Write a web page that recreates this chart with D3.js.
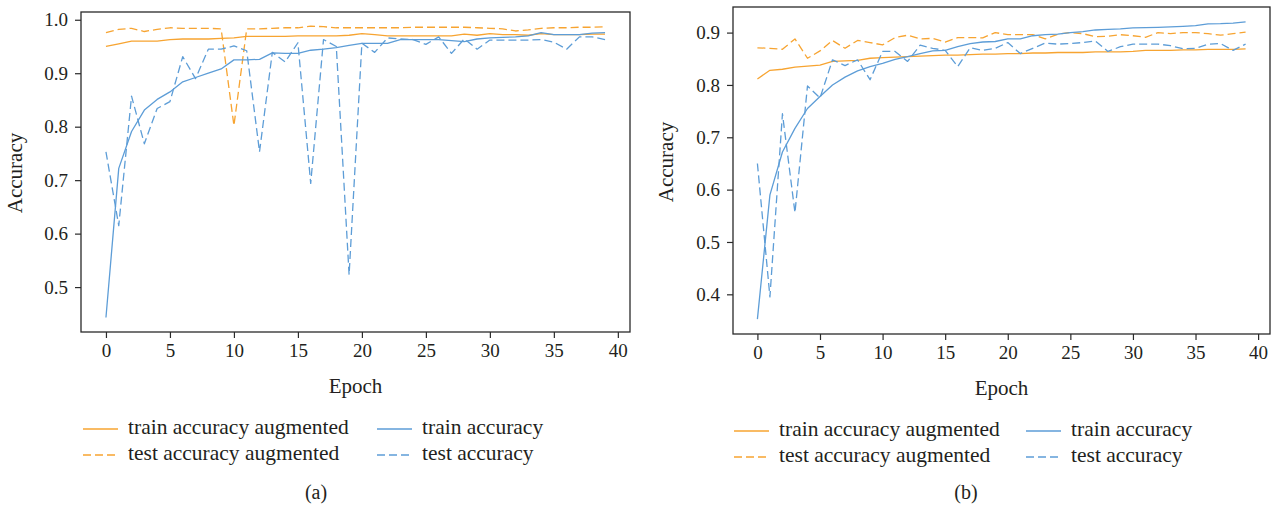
<!DOCTYPE html>
<html>
<head>
<meta charset="utf-8">
<script src="https://cdn.jsdelivr.net/npm/d3@7"></script>
<style>
  html, body { margin: 0; padding: 0; background: #fff; }
  svg { display: block; }
  text { font-family: "Liberation Serif", "DejaVu Serif", serif; fill: #231f20; }
</style>
</head>
<body>
<svg id="chart" width="1274" height="509"></svg>
<script>
// ---------- data ----------
const epochs = [0,1,2,3,4,5,6,7,8,9,10,11,12,13,14,15,16,17,18,19,20,21,22,23,24,25,26,27,28,29,30,31,32,33,34,35,36,37,38,39];
const xTicks = [0,5,10,15,20,25,30,35,40];
const yTicksA = [0.5,0.6,0.7,0.8,0.9,1.0];
const yTicksB = [0.4,0.5,0.6,0.7,0.8,0.9];
const seriesNames = ["train accuracy augmented","test accuracy augmented","train accuracy","test accuracy"];
const panelLabels = ["(a)","(b)"];

// panel (a)
const trainAugA = [0.950,0.955,0.960,0.960,0.960,0.963,0.964,0.964,0.964,0.965,0.966,0.969,0.969,0.969,0.969,0.970,0.970,0.970,0.970,0.971,0.974,0.972,0.970,0.970,0.970,0.970,0.970,0.970,0.973,0.971,0.974,0.972,0.972,0.971,0.974,0.972,0.972,0.972,0.973,0.973];
const testAugA  = [0.976,0.982,0.984,0.978,0.982,0.985,0.984,0.984,0.984,0.983,0.802,0.983,0.983,0.984,0.985,0.985,0.988,0.987,0.985,0.985,0.985,0.985,0.985,0.985,0.986,0.986,0.986,0.986,0.986,0.985,0.984,0.983,0.979,0.981,0.984,0.985,0.985,0.986,0.986,0.987];
const trainA    = [0.443,0.722,0.791,0.831,0.851,0.865,0.884,0.892,0.900,0.908,0.925,0.925,0.926,0.938,0.937,0.937,0.943,0.945,0.948,0.952,0.956,0.956,0.956,0.963,0.963,0.963,0.963,0.961,0.959,0.964,0.966,0.967,0.968,0.970,0.976,0.972,0.972,0.972,0.975,0.976];
const testA     = [0.753,0.615,0.857,0.768,0.834,0.847,0.931,0.890,0.945,0.945,0.951,0.942,0.753,0.939,0.921,0.957,0.694,0.963,0.950,0.523,0.956,0.939,0.966,0.964,0.963,0.954,0.968,0.937,0.964,0.945,0.962,0.962,0.962,0.962,0.963,0.958,0.945,0.968,0.968,0.963];

// panel (b)
const trainAugB = [0.8115,0.828,0.830,0.834,0.836,0.838,0.845,0.846,0.847,0.851,0.852,0.853,0.854,0.855,0.856,0.857,0.857,0.858,0.859,0.859,0.860,0.860,0.861,0.861,0.862,0.862,0.862,0.863,0.863,0.863,0.864,0.866,0.866,0.866,0.867,0.867,0.868,0.868,0.868,0.869];
const testAugB  = [0.871,0.870,0.868,0.888,0.851,0.865,0.885,0.870,0.885,0.881,0.8765,0.8905,0.895,0.888,0.889,0.882,0.8905,0.8905,0.890,0.900,0.896,0.896,0.896,0.888,0.897,0.900,0.898,0.892,0.893,0.896,0.894,0.891,0.900,0.898,0.900,0.900,0.898,0.895,0.898,0.901];
const trainB    = [0.3526,0.590,0.672,0.717,0.755,0.778,0.800,0.815,0.827,0.835,0.841,0.849,0.854,0.860,0.865,0.866,0.873,0.879,0.882,0.883,0.888,0.888,0.894,0.896,0.897,0.900,0.902,0.905,0.906,0.907,0.909,0.9095,0.910,0.911,0.912,0.9135,0.9166,0.917,0.918,0.9205];
const testB     = [0.650,0.395,0.745,0.556,0.798,0.775,0.848,0.837,0.848,0.810,0.864,0.864,0.845,0.876,0.870,0.866,0.835,0.871,0.866,0.870,0.881,0.860,0.870,0.880,0.878,0.879,0.881,0.884,0.864,0.873,0.878,0.878,0.878,0.875,0.869,0.870,0.878,0.879,0.866,0.878];

// ---------- styles ----------
const ORANGE = "#F7A431";
const BLUE = "#5D9DD7";
const seriesColors = [ORANGE, ORANGE, BLUE, BLUE];
const seriesDash = [null, "8,4", null, "8,4"];
const SERIF = '"Liberation Serif", "DejaVu Serif", serif';

const svg = d3.select("#chart");

function drawPanel(cfg) {
  const x = d3.scaleLinear().domain([-1.95, 40.95]).range([cfg.left, cfg.right]);
  const y = d3.scaleLinear().domain(cfg.yDomain).range([cfg.bottom, cfg.top]);
  const g = svg.append("g");

  const line = d3.line().x((d, i) => x(epochs[i])).y(d => y(d));
  cfg.series.forEach((s, k) => {
    g.append("path")
      .attr("d", line(s))
      .attr("fill", "none")
      .attr("stroke", seriesColors[k])
      .attr("stroke-width", 1.3)
      .attr("stroke-dasharray", seriesDash[k])
      .attr("stroke-linejoin", "round");
  });

  // frame
  g.append("rect")
    .attr("x", cfg.left).attr("y", cfg.top)
    .attr("width", cfg.right - cfg.left).attr("height", cfg.bottom - cfg.top)
    .attr("fill", "none").attr("stroke", "#2a2a2a").attr("stroke-width", 1.3);

  // axes
  const xAxis = d3.axisBottom(x).tickValues(xTicks).tickSize(6).tickPadding(6).tickFormat(d3.format("d"));
  const xg = g.append("g").attr("transform", `translate(0,${cfg.bottom})`).call(xAxis);
  const yAxis = d3.axisLeft(y).tickValues(cfg.yTicks).tickSize(6).tickPadding(7).tickFormat(d3.format(".1f"));
  const yg = g.append("g").attr("transform", `translate(${cfg.left},0)`).call(yAxis);
  [xg, yg].forEach(a => {
    a.attr("font-family", SERIF).attr("font-size", 19);
    a.select(".domain").remove();
    a.selectAll(".tick line").attr("stroke", "#2a2a2a").attr("stroke-width", 1.2);
    a.selectAll(".tick text")
      .attr("font-family", SERIF)
      .style("font-family", SERIF)
      .style("font-size", "19px").attr("fill", "#231f20");
  });

  // axis labels
  g.append("text")
    .attr("x", (cfg.left + cfg.right) / 2).attr("y", cfg.epochY)
    .attr("text-anchor", "middle").attr("dominant-baseline", "middle")
    .style("font-size", "21px").text("Epoch");
  g.append("text")
    .attr("transform", `translate(${cfg.accX},${cfg.accY}) rotate(-90)`)
    .attr("text-anchor", "middle").attr("dominant-baseline", "middle")
    .style("font-size", "21px").text("Accuracy");

  // legend (2 columns, column-major)
  seriesNames.forEach((name, k) => {
    const col = Math.floor(k / 2), row = k % 2;
    const lx = cfg.legX[col], ly = cfg.legY[row];
    g.append("line")
      .attr("x1", lx).attr("x2", lx + 35).attr("y1", ly).attr("y2", ly)
      .attr("stroke", seriesColors[k]).attr("stroke-width", 1.5)
      .attr("stroke-dasharray", seriesDash[k]);
    g.append("text")
      .attr("x", lx + 45).attr("y", ly)
      .attr("dominant-baseline", "middle")
      .style("font-size", "21.5px").text(name);
  });

  // panel label
  g.append("text")
    .attr("x", cfg.panelX).attr("y", 494)
    .attr("text-anchor", "middle").attr("dominant-baseline", "middle")
    .style("font-size", "20px").text(cfg.label);
}

drawPanel({
  left: 81, right: 630, top: 12, bottom: 332,
  yDomain: [0.416, 1.0145], yTicks: yTicksA,
  series: [trainAugA, testAugA, trainA, testA],
  epochY: 388, accX: 17, accY: 173,
  legX: [83, 377], legY: [429, 455],
  panelX: 316, label: panelLabels[0]
});

drawPanel({
  left: 733, right: 1270, top: 7, bottom: 334,
  yDomain: [0.3242, 0.9489], yTicks: yTicksB,
  series: [trainAugB, testAugB, trainB, testB],
  epochY: 390, accX: 668, accY: 162,
  legX: [734, 1026], legY: [431, 457],
  panelX: 966, label: panelLabels[1]
});
</script>
</body>
</html>
